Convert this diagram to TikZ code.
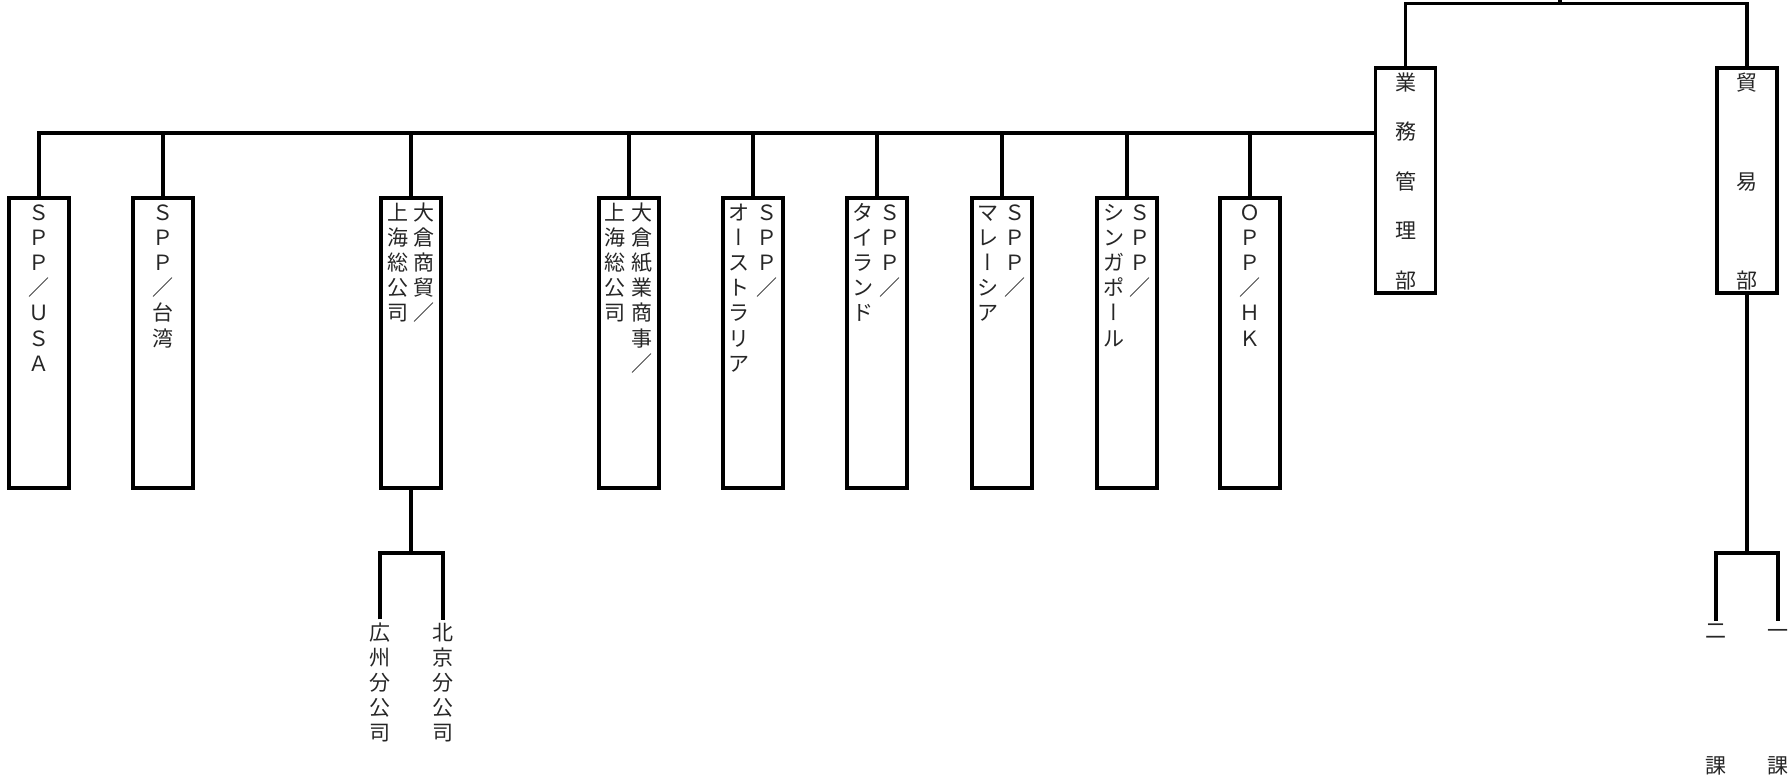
\documentclass[tikz,border=0pt]{standalone}
\usepackage{fontspec}
\newfontfamily\jp{Noto Sans CJK JP}
\newfontfamily\jpv[RawFeature=+vert]{Noto Sans CJK JP}
\newcommand\vb{{\jpv ー}}
\makeatletter
\def\vst@ck#1{\ifx#1\@nil\else\hbox to 1em{\hss#1\hss}\expandafter\vst@ck\fi}
\newcommand\vcol[2]{\vtop{\baselineskip=#1\relax\lineskiplimit=-100pt\lineskip=0pt\vst@ck#2\@nil}}
\makeatother
\tikzset{
  unit/.style={draw, line width=3.2pt, minimum width=60pt, minimum height=290pt, inner sep=0pt, outer sep=0pt},
  dept/.style={unit, minimum height=225pt},
  conn/.style={line width=3.2pt},
  col/.style={anchor=base, inner sep=0pt, outer sep=3pt, font=\jp\fontsize{21}{25}\selectfont, text=black!85},
}
\begin{document}
\begin{tikzpicture}[x=1pt, y=-1pt]
\useasboundingbox (0,0) rectangle (1792,779);
% boxes
\node[unit] (usa) at (39,343) {};
\node[unit] (tw)  at (163,343) {};
\node[unit] (sh1) at (411,343) {};
\node[unit] (sh2) at (629,343) {};
\node[unit] (au)  at (753,343) {};
\node[unit] (th)  at (877,343) {};
\node[unit] (my)  at (1002,343) {};
\node[unit] (sg)  at (1127,343) {};
\node[unit] (hk)  at (1250,343) {};
\node[dept] (gyomu) at (1405.5,180.5) {};
\node[dept] (boeki) at (1747,180.5) {};
% texts
\node[col] (usaT) at (39,220) {\vcol{25.2pt}{ＳＰＰ／ＵＳＡ}};
\node[col] (twT)  at (163,220) {\vcol{25.2pt}{ＳＰＰ／台湾}};
\node[col] (sh1R) at (424,220) {\vcol{25.2pt}{大倉商貿／}};
\node[col] (sh1L) at (398,220) {\vcol{25.2pt}{上海総公司}};
\node[col] (sh2R) at (642,220) {\vcol{25.2pt}{大倉紙業商事／}};
\node[col] (sh2L) at (615,220) {\vcol{25.2pt}{上海総公司}};
\node[col] (auR)  at (767,220) {\vcol{25.2pt}{ＳＰＰ／}};
\node[col] (auL)  at (739,220) {\vcol{25.2pt}{オ\vb ストラリア}};
\node[col] (thR)  at (890,220) {\vcol{25.2pt}{ＳＰＰ／}};
\node[col] (thL)  at (863,220) {\vcol{25.2pt}{タイランド}};
\node[col] (myR)  at (1015,220) {\vcol{25.2pt}{ＳＰＰ／}};
\node[col] (myL)  at (988,220) {\vcol{25.2pt}{マレ\vb シア}};
\node[col] (sgR)  at (1140,220) {\vcol{25.2pt}{ＳＰＰ／}};
\node[col] (sgL)  at (1114,220) {\vcol{25.2pt}{シンガポ\vb ル}};
\node[col] (hkT)  at (1250,220) {\vcol{25.2pt}{ＯＰＰ／ＨＫ}};
\node[col] (gyomuT) at (1406,90) {\vcol{49.5pt}{業務管理部}};
\node[col] (boekiT) at (1747,90) {\vcol{99pt}{貿易部}};
\node[col] (gz) at (380,640) {\vcol{25.2pt}{広州分公司}};
\node[col] (bj) at (443,640) {\vcol{25.2pt}{北京分公司}};
\node[col] (ka2) at (1716,638.5) {\vcol{134.5pt}{二課}};
\node[col] (ka1) at (1778,638.5) {\vcol{134.5pt}{一課}};
% connectors
\coordinate (bus) at (0,133);
\coordinate (topbar) at (1560,3.5);
\coordinate (topend) at (1560,0);
\coordinate (shb) at (0,553);
\draw[conn] (usa.north) -- (usa.north |- bus) -- (gyomu.west |- bus);
\foreach \n in {tw,sh1,sh2,au,th,my,sg,hk} \draw[conn] (\n.north) -- (\n.north |- bus);
\draw[conn] (gyomu.north) -- (gyomu.north |- topbar) -- (boeki.north |- topbar) -- (boeki.north);
\draw[conn] (topend) -- (topbar);
\draw[conn] (sh1.south) -- (sh1.south |- shb);
\draw[conn] (gz.north) -- (gz.north |- shb) -- (bj.north |- shb) -- (bj.north);
\draw[conn] (boeki.south) -- (boeki.south |- shb);
\draw[conn] (ka2.north) -- (ka2.north |- shb) -- (ka1.north |- shb) -- (ka1.north |- ka2.north);
\end{tikzpicture}
\end{document}
